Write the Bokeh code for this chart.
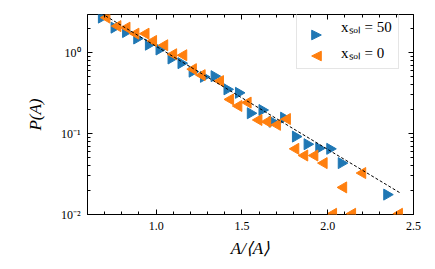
import numpy as np
from bokeh.plotting import figure
from bokeh.models import (ColumnDataSource, LinearAxis, LogAxis, SingleIntervalTicker,
                          LogTicker, CustomJSTickFormatter, PrintfTickFormatter,
                          Legend, LegendItem, Range1d, CustomLabelingPolicy, PolyAnnotation)
from bokeh.embed import file_html
from bokeh.resources import INLINE

# ---- data ----
x_sol50 = [0.682, 0.756, 0.823, 0.888, 0.956, 1.018, 1.088, 1.146, 1.211, 1.277, 1.339,
           1.414, 1.481, 1.550, 1.618, 1.677, 1.744, 1.813, 1.881, 1.949, 2.013, 2.080, 2.345]
p_sol50 = [2.70, 2.03, 1.79, 1.49, 1.25, 1.09, 0.844, 0.739, 0.581, 0.501, 0.511,
           0.351, 0.318, 0.178, 0.195, 0.140, 0.157, 0.0916, 0.0738, 0.0659, 0.0647, 0.0431, 0.0176]

x_sol0 = [0.712, 0.776, 0.829, 0.881, 0.940, 0.984, 1.049, 1.101, 1.160, 1.216, 1.267,
          1.374, 1.433, 1.481, 1.535, 1.598, 1.649, 1.706, 1.764, 1.813, 1.865, 1.924,
          1.978, 2.033, 2.092, 2.144, 2.203, 2.417]
p_sol0 = [2.70, 2.12, 2.03, 1.71, 1.71, 1.39, 1.23, 0.953, 0.926, 0.623, 0.526,
          0.444, 0.264, 0.219, 0.241, 0.147, 0.140, 0.128, 0.151, 0.0647, 0.0535, 0.0535,
          0.0431, 0.0102, 0.0216, 0.0102, 0.0325, 0.0102]

fit_x = [0.68, 2.42]
fit_y = [3.05, 0.0186]

label_50 = "xₛₒₗ = 50"
label_0 = "xₛₒₗ = 0"

x_range = (0.6, 2.5)
y_range = (0.01, 2.95)

BLUE = "#1f77b4"
ORANGE = "#ff7f0e"
FONT = "Liberation Serif"

FW, FH = 326, 200
p = figure(frame_width=FW, frame_height=FH, y_axis_type="log",
           x_range=Range1d(*x_range), y_range=Range1d(*y_range),
           output_backend="svg", toolbar_location=None, tools="",
           min_border_left=87, min_border_top=14, min_border_right=6, min_border_bottom=10)
p.background_fill_color = "white"
p.border_fill_color = "white"
p.outline_line_color = "black"
p.outline_line_width = 1
p.xgrid.visible = False
p.ygrid.visible = False

xticker = SingleIntervalTicker(interval=0.5, num_minor_ticks=5)
yticker = LogTicker(num_minor_ticks=10)

ysup = CustomJSTickFormatter(code="""
const sup = {"-":"\u207b","0":"\u2070","1":"\u00b9","2":"\u00b2","3":"\u00b3","4":"\u2074",
             "5":"\u2075","6":"\u2076","7":"\u2077","8":"\u2078","9":"\u2079"};
const e = Math.round(Math.log10(tick));
return "10" + String(e).split("").map(c => sup[c]).join("");
""")

no_labels = CustomLabelingPolicy(code="return new indices.constructor(indices.size);")

def style_axis(ax, labels=True):
    ax.axis_line_color = None
    ax.major_tick_in = 5
    ax.major_tick_out = 0
    ax.minor_tick_in = 3
    ax.minor_tick_out = 0
    ax.major_tick_line_color = "black"
    ax.minor_tick_line_color = "black"
    ax.major_label_text_font = FONT
    ax.major_label_text_font_size = "12px"
    ax.major_label_text_color = "black"
    ax.axis_label_text_color = "black"
    if not labels:
        ax.major_label_policy = no_labels
        ax.major_label_standoff = 0

xa = p.xaxis[0]
xa.ticker = xticker
xa.formatter = PrintfTickFormatter(format="%.1f")
style_axis(xa)
xa.major_label_standoff = 7
xa.axis_label = "A/⟨A⟩"
xa.axis_label_text_font = FONT
xa.axis_label_text_font_style = "italic"
xa.axis_label_text_font_size = "17px"
xa.axis_label_standoff = 6

ya = p.yaxis[0]
ya.ticker = yticker
ya.formatter = ysup
style_axis(ya)
ya.major_label_standoff = 7
ya.axis_label = "P(A)"
ya.axis_label_text_font = FONT
ya.axis_label_text_font_style = "italic"
ya.axis_label_text_font_size = "17px"
ya.axis_label_standoff = 13

top = LinearAxis(ticker=xticker)
style_axis(top, labels=False)
p.add_layout(top, "above")
right = LogAxis(ticker=yticker)
style_axis(right, labels=False)
p.add_layout(right, "right")

s50 = ColumnDataSource(dict(x=x_sol50, y=p_sol50))
s0 = ColumnDataSource(dict(x=x_sol0, y=p_sol0))
r50 = p.scatter("x", "y", source=s50, marker="triangle", size=11, angle=-np.pi / 2,
                fill_color=BLUE, line_color=BLUE)
r0 = p.scatter("x", "y", source=s0, marker="triangle", size=11, angle=np.pi / 2,
               fill_color=ORANGE, line_color=ORANGE)
p.line(fit_x, fit_y, line_color="black", line_width=1, line_dash="3 2")

# legend box: top-left corner in frame pixels (y measured up from the frame bottom)
LX, LY = 209, FH - 7
PAD, GW, ROW, SP = 6, 28, 15, 6
LH = 2 * PAD + 2 * ROW + SP
legend = Legend(items=[LegendItem(label=label_50, renderers=[r50]),
                       LegendItem(label=label_0, renderers=[r0])],
                location=(LX, LY - LH), padding=PAD, spacing=SP,
                glyph_width=GW, glyph_height=0, label_height=ROW, label_standoff=10,
                label_text_font=FONT, label_text_font_size="15px", label_text_color="black",
                border_line_color="#cccccc", border_line_width=1,
                background_fill_color="white", background_fill_alpha=0.0)
p.add_layout(legend, "center")

# legend markers drawn as rotated triangles (Bokeh does not rotate legend glyphs)
H = 4.8
for i, (col, direction) in enumerate([(BLUE, 1), (ORANGE, -1)]):
    cx = LX + PAD + GW / 2
    cy = LY - PAD - ROW / 2 - i * (ROW + SP)
    xs = [cx - direction * H, cx - direction * H, cx + direction * H]
    ys = [cy + H, cy - H, cy]
    p.add_layout(PolyAnnotation(xs=xs, ys=ys, xs_units="screen", ys_units="screen",
                                fill_color=col, fill_alpha=1.0, line_color=col,
                                line_alpha=1.0, line_width=1, level="overlay"))

open("out.html", "w").write(file_html(p, INLINE))
